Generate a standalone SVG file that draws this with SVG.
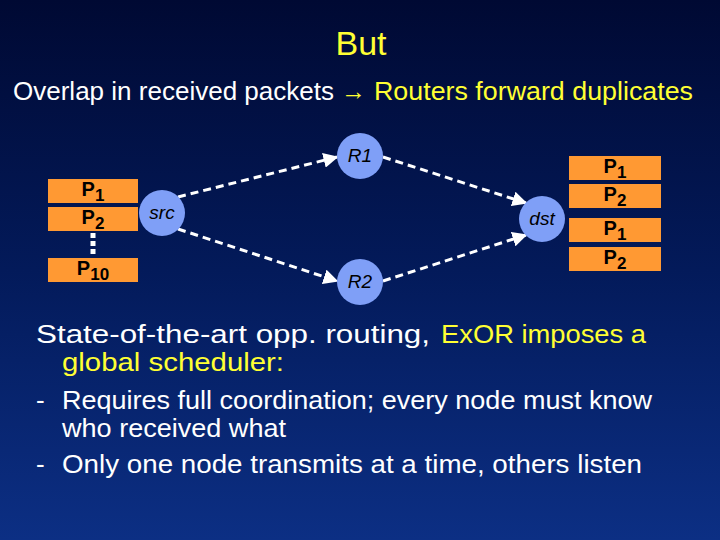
<svg xmlns="http://www.w3.org/2000/svg" width="720" height="540" viewBox="0 0 720 540">
<defs>
<linearGradient id="bg" x1="0" y1="0" x2="0" y2="1">
<stop offset="0" stop-color="#000933"/>
<stop offset="0.5" stop-color="#031a5a"/>
<stop offset="1" stop-color="#0c2f84"/>
</linearGradient>
<marker id="ah" viewBox="0 0 10 10" refX="9" refY="5" markerWidth="5" markerHeight="5" orient="auto" markerUnits="strokeWidth">
<path d="M0,0 L10,5 L0,10 z" fill="#ffffff"/>
</marker>
<style>
.t{font-family:"Comic Sans MS","Liberation Sans","DejaVu Sans",sans-serif;}
.w{fill:#ffffff;}
.y{fill:#ffff33;}
.box{fill:#ff9933;}
.node{fill:#7f9ff7;}
.lbl{font-family:"Comic Sans MS","Liberation Sans",sans-serif;font-style:italic;font-size:19px;fill:#000000;text-anchor:middle;}
.pl{font-family:"Comic Sans MS","Liberation Sans",sans-serif;font-weight:bold;font-size:20px;fill:#000000;text-anchor:middle;}
.sub{font-size:17px;}
.conn{stroke:#ffffff;stroke-width:3;stroke-dasharray:8,5;fill:none;marker-end:url(#ah);}
</style>
</defs>
<rect width="720" height="540" fill="url(#bg)"/>

<text class="t y" x="361" y="55" font-size="34" text-anchor="middle">But</text>
<text class="t w" x="13" y="100" font-size="25" textLength="321" lengthAdjust="spacingAndGlyphs">Overlap in received packets</text>
<text class="t y" x="341" y="100" font-size="25">→</text>
<text class="t y" x="374" y="100" font-size="25" textLength="319" lengthAdjust="spacingAndGlyphs">Routers forward duplicates</text>

<g id="connectors">
<line class="conn" x1="178" y1="197" x2="337" y2="157"/>
<line class="conn" x1="178" y1="229" x2="337" y2="281"/>
<line class="conn" x1="383" y1="157" x2="526" y2="203"/>
<line class="conn" x1="383" y1="281" x2="526" y2="235"/>
</g>

<g id="src-packets">
<rect class="box" x="48" y="179" width="90" height="24"/>
<text class="pl" x="93" y="196">P<tspan class="sub" dy="5">1</tspan></text>
<rect class="box" x="48" y="207" width="90" height="24"/>
<text class="pl" x="93" y="224">P<tspan class="sub" dy="5">2</tspan></text>
<line x1="93" y1="233" x2="93" y2="256" stroke="#ffffff" stroke-width="5" stroke-dasharray="5,3"/>
<rect class="box" x="48" y="258" width="90" height="24"/>
<text class="pl" x="93" y="275">P<tspan class="sub" dy="5">10</tspan></text>
</g>

<g id="dst-packets">
<rect class="box" x="569" y="156" width="92" height="24"/>
<text class="pl" x="615" y="173">P<tspan class="sub" dy="5">1</tspan></text>
<rect class="box" x="569" y="184" width="92" height="24"/>
<text class="pl" x="615" y="201">P<tspan class="sub" dy="5">2</tspan></text>
<rect class="box" x="569" y="218" width="92" height="24"/>
<text class="pl" x="615" y="235">P<tspan class="sub" dy="5">1</tspan></text>
<rect class="box" x="569" y="247" width="92" height="24"/>
<text class="pl" x="615" y="264">P<tspan class="sub" dy="5">2</tspan></text>
</g>

<g id="src">
<circle class="node" cx="162" cy="213" r="23"/>
<text class="lbl" x="162" y="219">src</text>
</g>
<g id="R1">
<circle class="node" cx="360" cy="156" r="23"/>
<text class="lbl" x="360" y="162">R1</text>
</g>
<g id="R2">
<circle class="node" cx="360" cy="282" r="23"/>
<text class="lbl" x="360" y="288">R2</text>
</g>
<g id="dst">
<circle class="node" cx="542" cy="219" r="23"/>
<text class="lbl" x="542" y="225">dst</text>
</g>

<text class="t w" font-size="26" x="36" y="343" textLength="394" lengthAdjust="spacingAndGlyphs">State-of-the-art opp. routing,</text>
<text class="t y" font-size="26" x="441" y="343" textLength="205" lengthAdjust="spacingAndGlyphs">ExOR imposes a</text>
<text class="t y" font-size="26" x="62" y="371" textLength="222" lengthAdjust="spacingAndGlyphs">global scheduler:</text>
<text class="t w" font-size="26" x="36" y="409">-</text>
<text class="t w" font-size="26" x="62" y="409" textLength="590" lengthAdjust="spacingAndGlyphs">Requires full coordination; every node must know</text>
<text class="t w" font-size="26" x="62" y="437" textLength="224" lengthAdjust="spacingAndGlyphs">who received what</text>
<text class="t w" font-size="26" x="36" y="473">-</text>
<text class="t w" font-size="26" x="62" y="473" textLength="580" lengthAdjust="spacingAndGlyphs">Only one node transmits at a time, others listen</text>
</svg>
